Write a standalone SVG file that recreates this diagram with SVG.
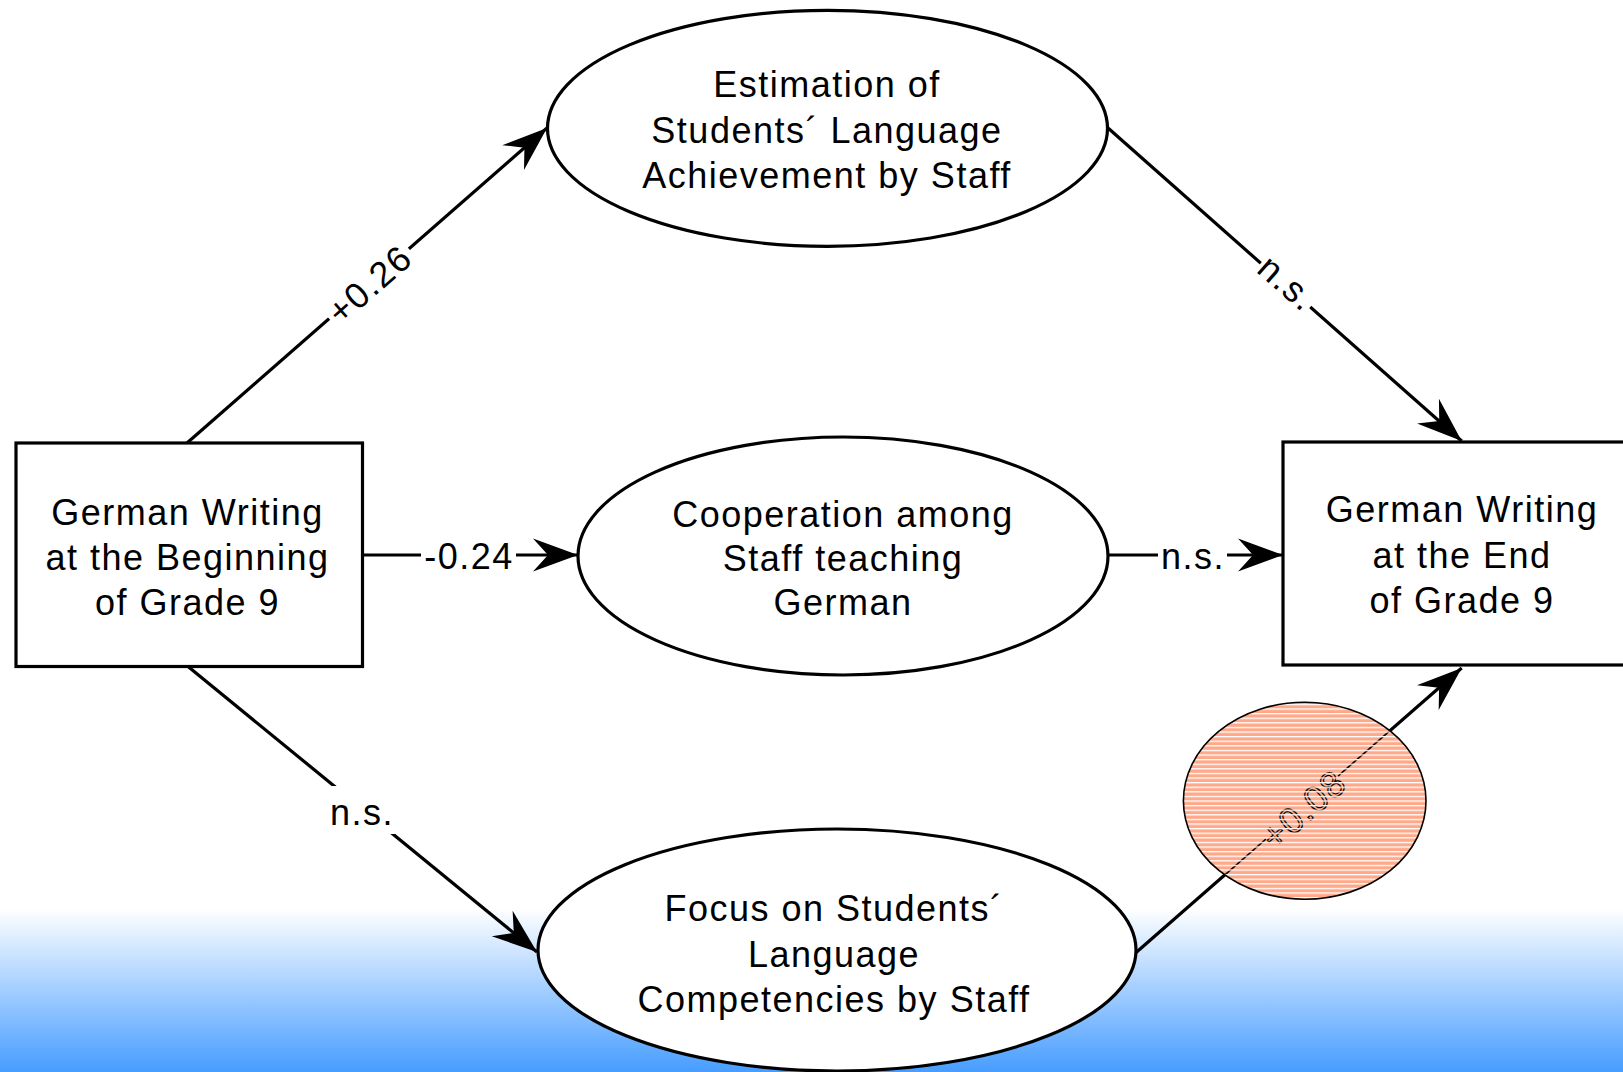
<svg xmlns="http://www.w3.org/2000/svg" width="1623" height="1072" viewBox="0 0 1623 1072">
<style>
.t{font-family:"Liberation Sans",Arial,sans-serif;font-size:36px;fill:#000;text-anchor:middle;letter-spacing:1.5px}
.shape{fill:#fff;stroke:#000;stroke-width:3.2}
.edge{fill:none;stroke:#000;stroke-width:3.2}
.bg{fill:#fff}
</style>
<defs>
<linearGradient id="sky" x1="0" y1="0" x2="0" y2="1">
<stop offset="0" stop-color="#ffffff"/>
<stop offset="1" stop-color="#479dff"/>
</linearGradient>
<marker id="arr" markerUnits="userSpaceOnUse" viewBox="-47 -18 49 36" refX="0" refY="0" markerWidth="49" markerHeight="36" orient="auto">
<path d="M0,0 L-45,-16.5 L-30,0 L-45,16.5 Z" fill="#000"/>
</marker>
<pattern id="stripes" patternUnits="userSpaceOnUse" x="0" y="0" width="10" height="4.6">
<rect x="0" y="0" width="10" height="1.3" fill="#fff"/>
</pattern>
<clipPath id="salClip"><ellipse cx="1304.7" cy="800.8" rx="121.3" ry="98.5"/></clipPath>
</defs>

<rect x="0" y="908" width="1623" height="164" fill="url(#sky)"/>

<g id="connectors">
<path class="edge" d="M187,443 L547,128" marker-end="url(#arr)"/>
<g transform="translate(369.2,284) rotate(-41.2)">
<rect class="bg" x="-53" y="-16" width="106" height="32"/>
<text class="t" x="0" y="13">+0.26</text>
</g>
<path class="edge" d="M1108,128 L1461.7,441" marker-end="url(#arr)"/>
<g transform="translate(1285.8,284.8) rotate(41.4)">
<rect class="bg" x="-33" y="-16" width="66" height="32"/>
<text class="t" x="0" y="10">n.s.</text>
</g>
<path class="edge" d="M362.5,555 L578,555" marker-end="url(#arr)"/>
<rect class="bg" x="421" y="535" width="95" height="40"/>
<text class="t" x="469" y="569">-0.24</text>
<path class="edge" d="M1108,555 L1283,555" marker-end="url(#arr)"/>
<rect class="bg" x="1158" y="535" width="69" height="40"/>
<text class="t" x="1193" y="569">n.s.</text>
<path class="edge" d="M188.3,666.7 L537,952" marker-end="url(#arr)"/>
<rect class="bg" x="328" y="786" width="68" height="48"/>
<text class="t" x="362" y="825">n.s.</text>
<path class="edge" d="M1135.5,953 L1461.7,668" marker-end="url(#arr)"/>
</g>

<g id="n_begin">
<rect class="shape" x="16" y="443" width="346.5" height="223.5"/>
<text class="t" x="187.5" y="525">German Writing</text>
<text class="t" x="187.5" y="570">at the Beginning</text>
<text class="t" x="187.5" y="615">of Grade 9</text>
</g>

<g id="n_end">
<rect class="shape" x="1283" y="442" width="360" height="223"/>
<text class="t" x="1462" y="522">German Writing</text>
<text class="t" x="1462" y="568">at the End</text>
<text class="t" x="1462" y="613">of Grade 9</text>
</g>

<g id="n_estimation">
<ellipse class="shape" cx="827.5" cy="128.3" rx="280" ry="118"/>
<text class="t" x="827" y="96.7">Estimation of</text>
<text class="t" x="827" y="143">Students´ Language</text>
<text class="t" x="827" y="188">Achievement by Staff</text>
</g>

<g id="n_cooperation">
<ellipse class="shape" cx="843" cy="556" rx="265" ry="119"/>
<text class="t" x="843" y="526.5">Cooperation among</text>
<text class="t" x="843" y="571">Staff teaching</text>
<text class="t" x="843" y="615">German</text>
</g>

<g id="n_focus">
<ellipse class="shape" cx="837" cy="950" rx="299" ry="121"/>
<text class="t" x="834" y="920.7">Focus on Students´</text>
<text class="t" x="834" y="967">Language</text>
<text class="t" x="834" y="1012">Competencies by Staff</text>
</g>

<g id="n_highlight">
<ellipse cx="1304.7" cy="800.8" rx="121.3" ry="98.5" fill="#ffa98a"/>
<g clip-path="url(#salClip)">
<path d="M1135.5,953 L1461.7,668" fill="none" stroke="#000" stroke-width="1.6"/>
<g transform="translate(1303.3,809) rotate(-41.1)">
<rect x="-48" y="-15" width="96" height="30" fill="#ffa98a"/>
<text x="0" y="13" style="font-family:'Liberation Sans',Arial,sans-serif;font-size:36px;text-anchor:middle;letter-spacing:1.5px;fill:none;stroke:#000;stroke-width:1.2">+0.08</text>
</g>
<rect x="1180" y="700" width="250" height="202" fill="url(#stripes)"/>
</g>
<ellipse cx="1304.7" cy="800.8" rx="121.3" ry="98.5" fill="none" stroke="#000" stroke-width="1.6"/>
</g>
</svg>
